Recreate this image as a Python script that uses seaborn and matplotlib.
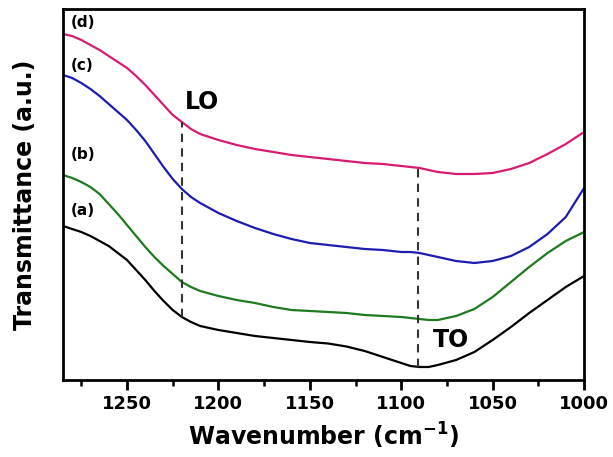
import matplotlib

matplotlib.use("Agg")

import matplotlib.pyplot as plt
import numpy as np
import pandas as pd
import seaborn as sns
from matplotlib.ticker import MultipleLocator

# FTIR spectra, transmittance in arbitrary units (curves offset vertically)
WAVENUMBER = [1285, 1280, 1275, 1270, 1265, 1260, 1255, 1250, 1245, 1240, 1235, 1230,
              1225, 1220, 1215, 1210, 1200, 1190, 1180, 1170, 1160, 1150, 1140, 1130,
              1120, 1110, 1100, 1095, 1090, 1085, 1080, 1070, 1060, 1050, 1040, 1030,
              1020, 1010, 1000]
T_A = [154, 151, 148, 144, 139, 134, 127, 120, 110, 100, 89, 79,
       70, 63, 58, 54, 50, 47, 44, 42, 40, 38, 36.5, 33.5,
       29, 23, 17, 14, 13, 13, 15, 20, 28, 40, 53, 67,
       80, 93, 104]
T_B = [205, 202, 198, 193, 186, 176, 166, 155, 144, 133, 123, 114,
       106, 98, 93, 89, 84, 80, 77, 73, 70, 69, 68, 67,
       65, 64, 63, 62, 61, 60, 60, 64, 71, 83, 98, 113,
       127, 139, 148]
T_C = [305, 302, 297, 291, 284, 276, 268, 260, 250, 239, 226, 213,
       201, 191, 183, 177, 167, 159, 152, 146, 141, 137, 135, 133,
       131, 130, 128, 128, 127, 125, 123, 119, 117, 119, 124, 133,
       146, 163, 192]
T_D = [346, 344, 340, 335, 330, 324, 318, 312, 304, 295, 285, 275,
       265, 258, 251, 246, 240, 235, 231, 228, 225, 223, 221, 219,
       217, 216, 214, 213, 212, 210, 208, 206, 206, 207, 211, 217,
       226, 236, 248]

SAMPLE_LABELS = ["(a)", "(b)", "(c)", "(d)"]
SAMPLE_COLORS = ["black", "#1f7a1f", "#1c1cb0", "#d81b72"]
LABEL_Y = [169, 226, 315, 358]

LO_POS = 1220
TO_POS = 1091
X_TICKS = [1250, 1200, 1150, 1100, 1050, 1000]

sns.set_style("ticks")
plt.rcParams["font.family"] = ["DejaVu Sans"]
plt.rcParams["font.weight"] = "bold"
plt.rcParams["text.color"] = "black"
plt.rcParams["axes.labelcolor"] = "black"
plt.rcParams["xtick.color"] = "black"
plt.rcParams["mathtext.default"] = "bf"

spectra = pd.concat(
    [
        pd.DataFrame({"wavenumber": WAVENUMBER, "transmittance": t, "sample": lab})
        for lab, t in zip(SAMPLE_LABELS, [T_A, T_B, T_C, T_D])
    ],
    ignore_index=True,
)

fig = plt.figure(figsize=(6.13, 4.57), dpi=100)
ax = fig.add_axes([0.1028, 0.1685, 0.85, 0.8118])

sns.lineplot(
    data=spectra,
    x="wavenumber",
    y="transmittance",
    hue="sample",
    palette=dict(zip(SAMPLE_LABELS, SAMPLE_COLORS)),
    sort=False,
    estimator=None,
    linewidth=1.6,
    legend=False,
    ax=ax,
)

# dashed guide lines running from curve (a) up to curve (d)
wn_rev = WAVENUMBER[::-1]
for pos in [LO_POS, TO_POS]:
    y_low = np.interp(pos, wn_rev, T_A[::-1])
    y_high = np.interp(pos, wn_rev, T_D[::-1])
    ax.plot([pos, pos], [y_low, y_high], color="#333333", linestyle=(0, (4, 3)), linewidth=1.5)

ax.text(1209, 278, "LO", fontsize=17, fontweight="bold", ha="center", va="center")
ax.text(1073, 40, "TO", fontsize=17, fontweight="bold", ha="center", va="center")
for lab, y in zip(SAMPLE_LABELS, LABEL_Y):
    ax.text(1281, y, lab, fontsize=11, fontweight="bold", ha="left", va="center")

ax.set_xlim(1285, 1000)
ax.set_ylim(0, 371)
ax.set_xticks(X_TICKS)
ax.xaxis.set_minor_locator(MultipleLocator(25))
ax.set_yticks([])
ax.tick_params(axis="x", which="major", direction="out", length=7, width=2, labelsize=13)
ax.tick_params(axis="x", which="minor", direction="out", length=4, width=1.8)
for label in ax.get_xticklabels():
    label.set_fontweight("bold")
for spine in ax.spines.values():
    spine.set_visible(True)
    spine.set_linewidth(2)
    spine.set_color("black")

ax.set_xlabel("Wavenumber (cm$^{-1}$)", fontsize=17, fontweight="bold", labelpad=6)
ax.set_ylabel("Transmittance (a.u.)", fontsize=17, fontweight="bold", labelpad=19)

fig.savefig("out.png", dpi=100)
plt.close(fig)
